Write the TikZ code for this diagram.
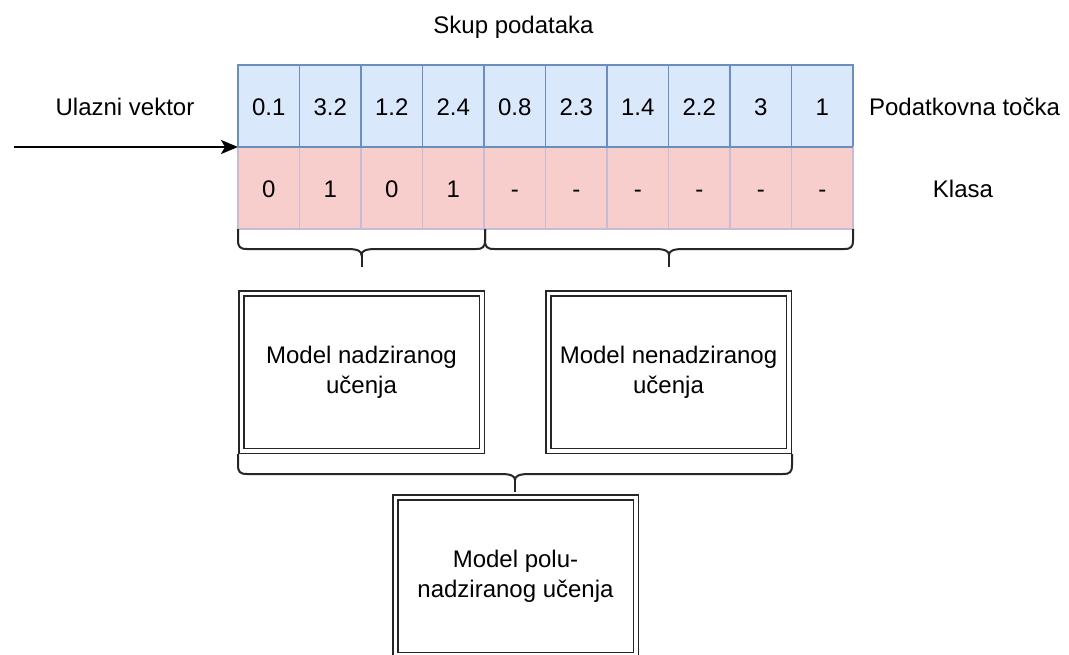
\documentclass[tikz,border=0pt]{standalone}
\usepackage{fontspec}
\setmainfont{Liberation Sans}
\usetikzlibrary{arrows.meta}
\definecolor{bluefill}{HTML}{DAE8FC}
\definecolor{bluestroke}{HTML}{6C8EBF}
\definecolor{redfill}{HTML}{F8CECC}
\definecolor{redstroke}{HTML}{C4BCD8}

% curly brace: left x, right x, top y, bar y, tip y
\newcommand\drawcurly[5]{%
  \pgfmathsetmacro\bmid{(#1+#2)/2}%
  \draw[bracestyle] (#1,#3) -- (#1,#4-9) .. controls (#1,#4-2) and (#1+2,#4) .. (#1+9,#4)
    -- (\bmid-14,#4) .. controls (\bmid-4,#4) and (\bmid,#4+2) .. (\bmid,#4+6)
    .. controls (\bmid,#4+2) and (\bmid+4,#4) .. (\bmid+14,#4)
    -- (#2-9,#4) .. controls (#2-2,#4) and (#2,#4-2) .. (#2,#4-9) -- (#2,#3);
  \draw[bracestyle] (\bmid,#4+5) -- (\bmid,#5);
}

\begin{document}
\begin{tikzpicture}[x=1pt,y=-1pt,
  every node/.style={font=\fontsize{24}{30}\selectfont, inner sep=0pt, outer sep=0pt},
  cell/.style={anchor=north west, minimum width=61.5pt, minimum height=82pt,
    line width=1.1pt, text height=18pt, text depth=0pt},
  datacell/.style={cell, draw=bluestroke, fill=bluefill},
  classcell/.style={cell, draw=redstroke, fill=redfill},
  model/.style={draw=black!85, double=white, double distance=3.5pt, line width=1.5pt,
    minimum width=240.5pt, minimum height=157.5pt, align=center},
  bracestyle/.style={draw=black!85, line width=2pt},
  label/.style={anchor=base},
  arrowline/.style={draw=black, line width=2pt, -{Stealth[length=17pt,width=14pt,inset=4pt]}}
  ]
\useasboundingbox (0,0) rectangle (1069,654);
\clip (0,0) rectangle (1069,654);

% table: data points and classes
\foreach \v [count=\i] in {0.1,3.2,1.2,2.4,0.8,2.3,1.4,2.2,3,1} {
  \node[datacell] (d\i) at ({238+61.5*(\i-1)},65) {\v};
}
\foreach \v [count=\i] in {0,1,0,1,-,-,-,-,-,-} {
  \node[classcell] (k\i) at ({238+61.5*(\i-1)},147) {\v};
}
% redraw the blue outline over the pink row edge
\draw[bluestroke, line width=1.1pt] (d1.south west) -- (d10.south east);

% labels
\node[label] (title) at (513.5,33) {Skup podataka};
\node[label] (inlab) at (125,115) {Ulazni vektor};
\node[label] (rowa) at (964.5,115) {Podatkovna točka};
\node[label] (rowb) at (963,197) {Klasa};

% input arrow
\coordinate (src) at (14,147);
\draw[arrowline] (src) -- (d1.south west);

% braces under the table
\drawcurly{238}{485}{229}{249}{267}
\drawcurly{485}{853}{229}{249}{267}

% models
\node[model] (sup) at (361.5,372) {Model nadziranog\\učenja};
\node[model] (unsup) at (668.5,372) {Model nenadziranog\\učenja};
\drawcurly{238}{792}{454}{474}{492}
\node[model] (semi) at (515.5,576) {Model polu-\\nadziranog učenja};
\end{tikzpicture}
\end{document}
